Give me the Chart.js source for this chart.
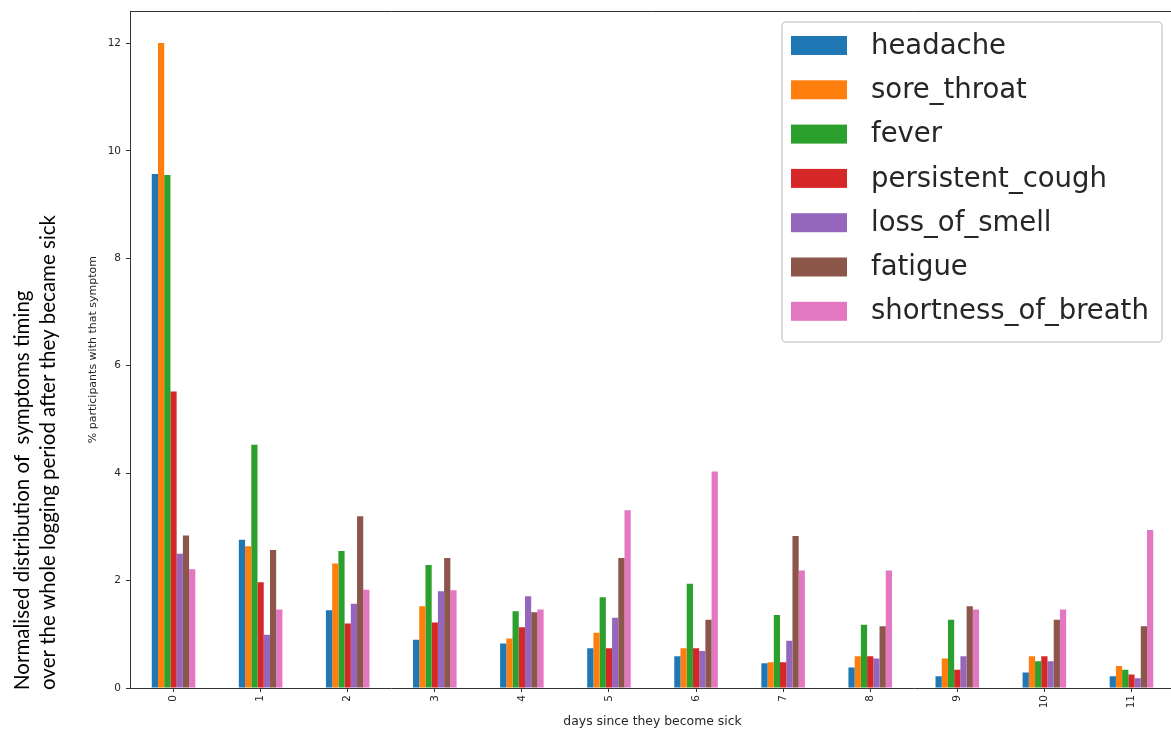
<!DOCTYPE html>
<html>
<head>
<meta charset="utf-8">
<script src="https://cdn.jsdelivr.net/npm/chart.js@4/dist/chart.umd.min.js"></script>
<style>
  html, body { margin: 0; padding: 0; background: #fff; overflow: hidden; width: 1171px; height: 731px; }
  #wrap { position: absolute; left: 0; top: 0; width: 1190px; height: 731px; }
</style>
</head>
<body>
<div id="wrap"><canvas id="c" width="1190" height="731"></canvas></div>
<script>
const days = ['0','1','2','3','4','5','6','7','8','9','10','11'];
const headache          = [9.57, 2.76, 1.45, 0.90, 0.83, 0.74, 0.59, 0.46, 0.38, 0.22, 0.29, 0.22];
const sore_throat       = [12.01, 2.64, 2.32, 1.52, 0.92, 1.03, 0.74, 0.48, 0.59, 0.55, 0.59, 0.41];
const fever             = [9.55, 4.53, 2.55, 2.29, 1.43, 1.69, 1.94, 1.36, 1.18, 1.27, 0.50, 0.34];
const persistent_cough  = [5.52, 1.97, 1.20, 1.22, 1.13, 0.74, 0.74, 0.48, 0.59, 0.34, 0.59, 0.25];
const loss_of_smell     = [2.50, 0.99, 1.57, 1.80, 1.71, 1.31, 0.69, 0.88, 0.55, 0.59, 0.50, 0.18];
const fatigue           = [2.84, 2.57, 3.20, 2.42, 1.41, 2.42, 1.27, 2.83, 1.15, 1.52, 1.27, 1.15];
const shortness_of_breath = [2.21, 1.46, 1.83, 1.82, 1.46, 3.31, 4.03, 2.19, 2.19, 1.46, 1.46, 2.94];
const yTicks = [0, 2, 4, 6, 8, 10, 12];
const seriesNames = ['headache','sore_throat','fever','persistent_cough','loss_of_smell','fatigue','shortness_of_breath'];
const seriesData = [headache, sore_throat, fever, persistent_cough, loss_of_smell, fatigue, shortness_of_breath];
const colors = ['#1f77b4','#ff7f0e','#2ca02c','#d62728','#9467bd','#8c564b','#e377c2'];
const titleLines = ['Normalised distribution of  symptoms timing', 'over the whole logging period after they became sick'];

const datasets = seriesNames.map((n, i) => ({
  label: n,
  data: seriesData[i],
  backgroundColor: colors[i],
  borderWidth: 0,
  categoryPercentage: 0.5,
  barPercentage: 1.0
}));

const framePlugin = {
  id: 'frame',
  afterDraw(chart) {
    const ctx = chart.ctx, a = chart.chartArea;
    ctx.save();
    ctx.strokeStyle = '#333';
    ctx.lineWidth = 1;
    ctx.beginPath();
    const y = Math.round(a.top) + 0.5;
    ctx.moveTo(a.left, y);
    ctx.lineTo(a.right, y);
    ctx.moveTo(Math.round(a.right) - 0.5, a.top);
    ctx.lineTo(Math.round(a.right) - 0.5, a.bottom);
    ctx.stroke();
    ctx.restore();
  }
};

const sideTitlePlugin = {
  id: 'sideTitle',
  afterDraw(chart) {
    const ctx = chart.ctx;
    ctx.save();
    ctx.fillStyle = '#000';
    ctx.font = '20.5px Lato';
    ctx.textAlign = 'left';
    ctx.textBaseline = 'middle';
    const xs = [22, 48];
    titleLines.forEach((t, i) => {
      ctx.save();
      ctx.translate(xs[i], 690);
      ctx.rotate(-Math.PI / 2);
      ctx.fillText(t, 0, 0);
      ctx.restore();
    });
    ctx.restore();
  }
};

const legendPlugin = {
  id: 'boxLegend',
  afterDraw(chart) {
    const ctx = chart.ctx;
    const x0 = 782, y0 = 22, w = 380, h = 320;
    ctx.save();
    ctx.fillStyle = 'rgba(255,255,255,0.8)';
    ctx.strokeStyle = '#d0d0d0';
    ctx.lineWidth = 1.5;
    ctx.beginPath();
    ctx.roundRect(x0, y0, w, h, 4);
    ctx.fill();
    ctx.stroke();
    ctx.font = '27.5px "DejaVu Sans"';
    ctx.textBaseline = 'middle';
    ctx.textAlign = 'left';
    chart.data.datasets.forEach((ds, i) => {
      const cy = 45.5 + i * 44.3;
      ctx.fillStyle = ds.backgroundColor;
      ctx.fillRect(791, cy - 9.5, 56, 19);
      ctx.fillStyle = '#262626';
      ctx.fillText(ds.label, 871, cy + 1);
    });
    ctx.restore();
  }
};

new Chart(document.getElementById('c'), {
  type: 'bar',
  data: { labels: days, datasets },
  options: {
    responsive: false,
    animation: false,
    devicePixelRatio: 1,
    layout: { padding: { left: 83, top: 10, right: 15, bottom: 0 } },
    plugins: { legend: { display: false }, tooltip: { enabled: false } },
    scales: {
      x: {
        offset: true,
        grid: { display: true, offset: false, drawOnChartArea: false, drawTicks: true, tickLength: 4, tickColor: '#333', color: '#333' },
        border: { display: true, color: '#333' },
        ticks: { minRotation: 90, maxRotation: 90, padding: 3, color: '#262626', font: { family: 'DejaVu Sans', size: 10.5 } },
        title: { display: true, text: 'days since they become sick', color: '#262626', font: { family: 'DejaVu Sans', size: 12.4 }, padding: { top: 2, bottom: 2 } },
        afterFit(scale) { scale.height = 43; }
      },
      y: {
        min: 0,
        max: 12.6,
        grid: { display: true, drawOnChartArea: false, drawTicks: true, tickLength: 4, tickColor: '#333', color: '#333' },
        border: { display: true, color: '#333' },
        ticks: { padding: 5, color: '#262626', font: { family: 'DejaVu Sans', size: 10.5 } },
        afterBuildTicks(scale) { scale.ticks = yTicks.map(v => ({ value: v })); },
        title: { display: true, text: '% participants with that symptom', color: '#262626', font: { family: 'DejaVu Sans', size: 11 }, padding: { top: 4, bottom: 4 } },
        afterFit(scale) { scale.width = 47; }
      }
    }
  },
  plugins: [framePlugin, sideTitlePlugin, legendPlugin]
});
</script>
</body>
</html>
